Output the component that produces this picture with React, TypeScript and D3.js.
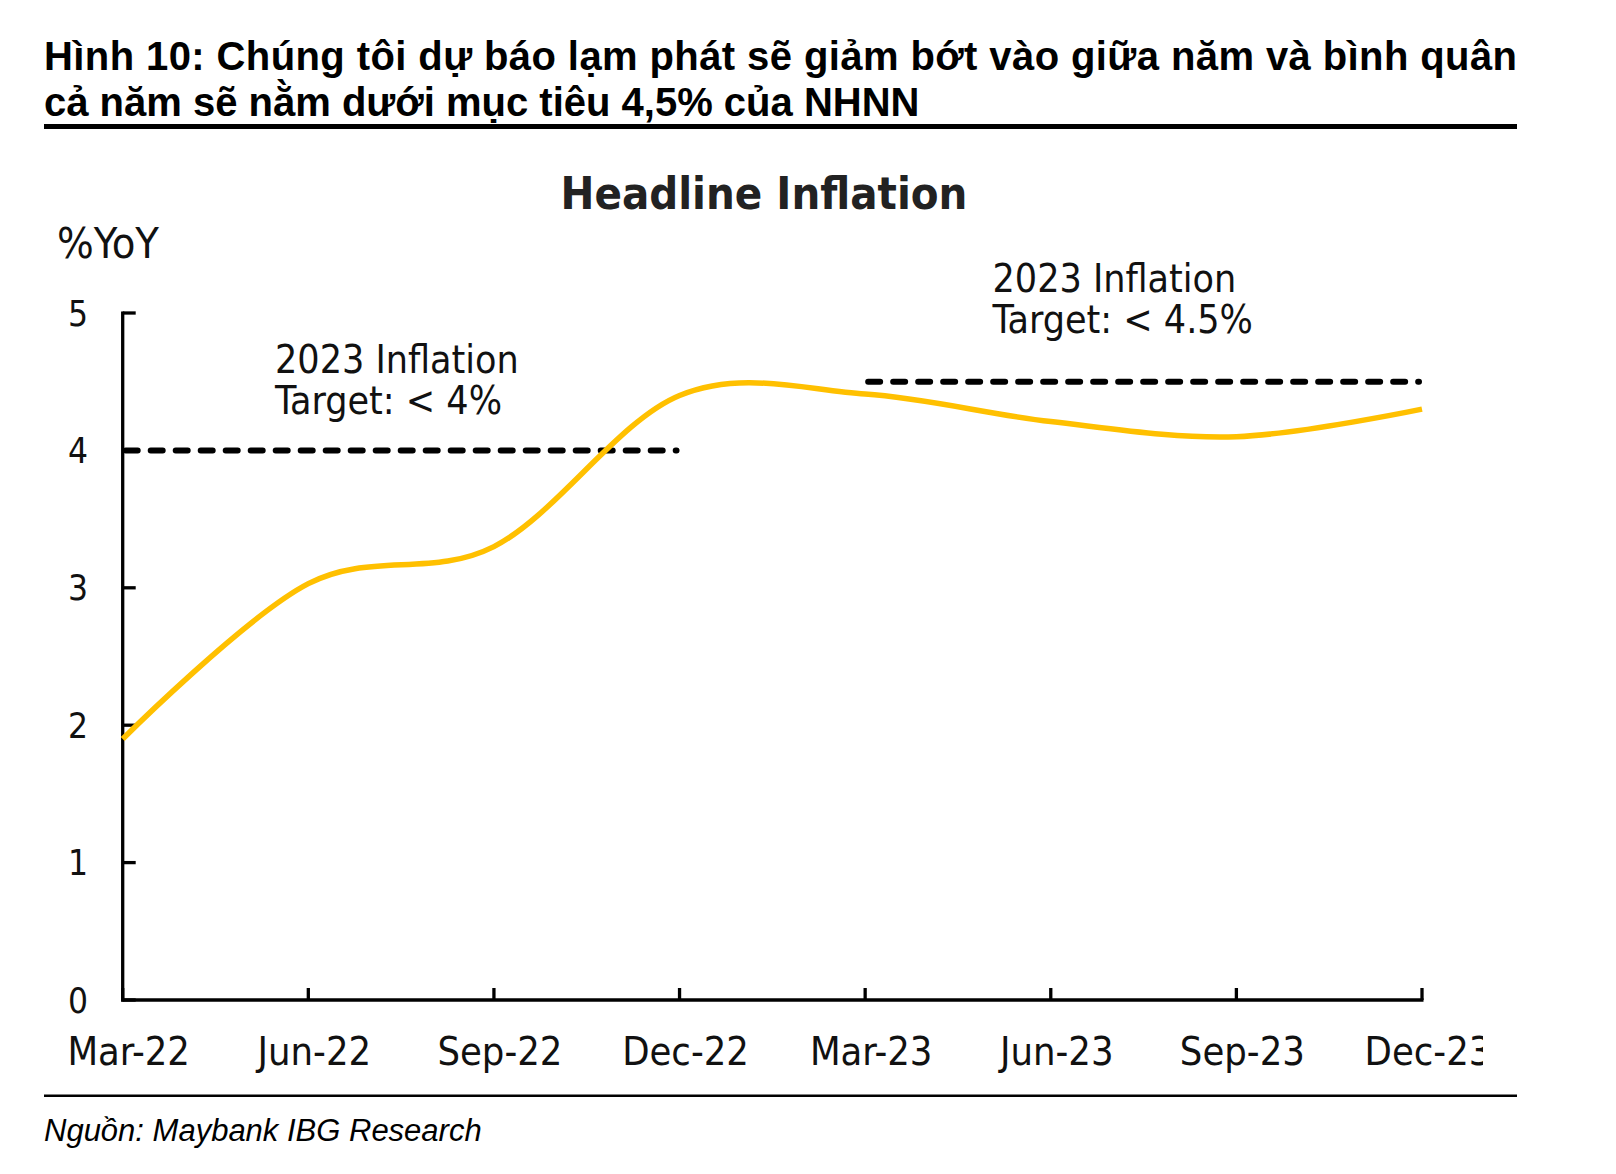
import React from "react";
import * as d3 from "d3";

const categories = ["Mar-22", "Jun-22", "Sep-22", "Dec-22", "Mar-23", "Jun-23", "Sep-23", "Dec-23"];
const inflation = [1.9, 3.03, 3.3, 4.4, 4.41, 4.21, 4.1, 4.3];
const yTicks = [0, 1, 2, 3, 4, 5];
const targetValues = [4, 4.5];
const targetFrom = ["Mar-22", "Mar-23"];
const targetTo = ["Dec-22", "Dec-23"];
const targetNotes = [
  ["2023 Inflation", "Target: < 4%"],
  ["2023 Inflation", "Target: < 4.5%"],
];
const headerLines = [
  "Hình 10: Chúng tôi dự báo lạm phát sẽ giảm bớt vào giữa năm và bình quân",
  "cả năm sẽ nằm dưới mục tiêu 4,5% của NHNN",
];
const chartTitle = "Headline Inflation";
const yLabel = "%YoY";
const source = "Nguồn: Maybank IBG Research";

const W = 1616;
const H = 1174;
const cf = "'DejaVu Sans Condensed', 'DejaVu Sans', sans-serif";
const af = "'Liberation Sans', Arial, sans-serif";

export default function App() {
  const x = d3.scalePoint<string>().domain(categories).range([122.7, 1422]);
  const y = d3.scaleLinear().domain([0, 5]).range([1000, 313]);
  const line = d3
    .line<number>()
    .x((_, i) => x(categories[i]) as number)
    .y((d) => y(d))
    .curve(d3.curveCardinal.tension(0));
  const path = line(inflation) || "";
  const x0 = x(categories[0]) as number;
  const xN = x(categories[categories.length - 1]) as number;
  const notePos = [
    { x: 275, y: 373 },
    { x: 992.5, y: 292 },
  ];

  return (
    <svg
      width={W}
      height={H}
      viewBox={`0 0 ${W} ${H}`}
      style={{ position: "absolute", left: 0, top: 0, background: "#fff" }}
    >
      <defs>
        <clipPath id="lblclip">
          <rect x={0} y={0} width={1483} height={H} />
        </clipPath>
      </defs>
      <rect x={0} y={0} width={W} height={H} fill="#fff" />
      {headerLines.map((t, i) => (
        <text
          key={i}
          x={44}
          y={70 + i * 45.5}
          fontFamily={af}
          fontWeight="bold"
          fontSize={40}
          fill="#000"
          {...(i === 0 ? { textLength: 1473, lengthAdjust: "spacing" } : {})}
        >
          {t}
        </text>
      ))}
      <rect x={44} y={124} width={1473} height={5} fill="#000" />

      <text x={764} y={209} textAnchor="middle" fontFamily={cf} fontStretch="condensed" fontWeight="bold" fontSize={45} fill="#222">
        {chartTitle}
      </text>
      <text x={57} y={258} fontFamily={cf} fontStretch="condensed" fontSize={43} fill="#111">
        {yLabel}
      </text>

      {/* axes */}
      <line x1={x0} x2={x0} y1={y(5) - 1.5} y2={y(0) + 1.5} stroke="#000" strokeWidth={3.3} />
      <line x1={x0 - 1.5} x2={xN + 1.5} y1={y(0)} y2={y(0)} stroke="#000" strokeWidth={3.3} />
      {yTicks.map((v) => (
        <g key={v}>
          <line x1={x0} x2={x0 + 13} y1={y(v)} y2={y(v)} stroke="#000" strokeWidth={3.3} />
          <text x={88} y={y(v)} dy="0.36em" textAnchor="end" fontFamily={cf} fontStretch="condensed" fontSize={35} fill="#111">
            {v}
          </text>
        </g>
      ))}
      <g clipPath="url(#lblclip)">
        {categories.map((c) => (
          <g key={c}>
            <line x1={x(c)} x2={x(c)} y1={y(0)} y2={y(0) - 12} stroke="#000" strokeWidth={3.3} />
            <text x={(x(c) as number) + 6} y={1065} textAnchor="middle" fontFamily={cf} fontStretch="condensed" fontSize={39.5} fill="#111">
              {c}
            </text>
          </g>
        ))}
      </g>

      {/* target lines */}
      {targetValues.map((v, i) => (
        <line
          key={i}
          x1={(x(targetFrom[i]) as number) + 3}
          x2={(x(targetTo[i]) as number) - 3}
          y1={y(v)}
          y2={y(v)}
          stroke="#000"
          strokeWidth={6}
          strokeDasharray="12 13"
          strokeLinecap="round"
        />
      ))}

      {/* series */}
      <path d={path} fill="none" stroke="#FFC000" strokeWidth={5.5} strokeLinecap="butt" />

      {targetNotes.map((lines, i) => (
        <text key={i} fontFamily={cf} fontStretch="condensed" fontSize={39} fill="#111">
          {lines.map((l, j) => (
            <tspan key={j} x={notePos[i].x} y={notePos[i].y + j * 41}>
              {l}
            </tspan>
          ))}
        </text>
      ))}

      <rect x={44} y={1094.5} width={1473} height={2.5} fill="#000" />
      <text x={44} y={1141} fontFamily={af} fontStyle="italic" fontSize={31} fill="#000">
        {source}
      </text>
    </svg>
  );
}
